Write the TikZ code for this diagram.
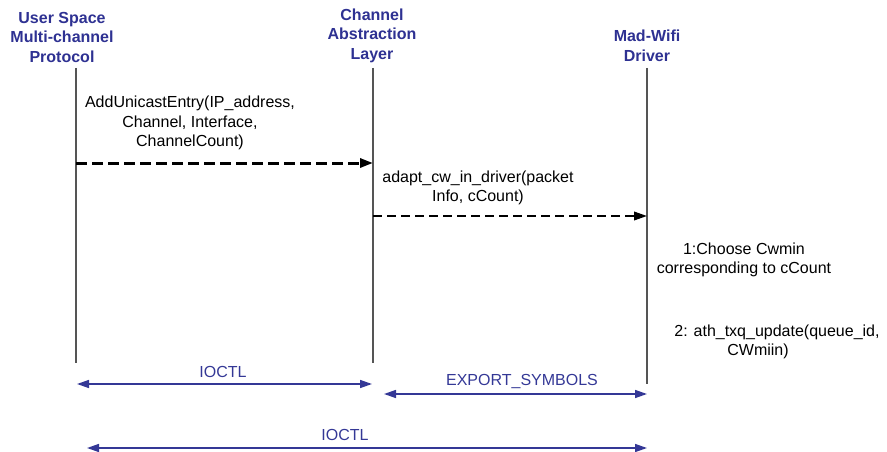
\documentclass[tikz,border=0pt]{standalone}
\usepackage{fontspec}
\setmainfont{Liberation Sans}
\usetikzlibrary{arrows.meta}
\definecolor{hdrblue}{RGB}{46,49,146}
\definecolor{arrblue}{RGB}{52,56,150}
\definecolor{lifegray}{RGB}{85,85,85}
\tikzset{
  hdr/.style={font=\fontsize{16}{19.5}\selectfont\bfseries, text=hdrblue, align=center, inner sep=0pt},
  msg/.style={font=\fontsize{16}{19.5}\selectfont, text=black, align=center, inner sep=0pt},
  blab/.style={font=\fontsize{16}{19.5}\selectfont, text=arrblue, inner sep=0pt},
  lifeline/.style={draw=lifegray, line width=1.3pt},
  callA/.style={draw=black, line width=3pt, dash pattern=on 11pt off 5pt, -{Triangle[length=13pt,width=9pt]}},
  callB/.style={draw=black, line width=2pt, dash pattern=on 9pt off 5pt, -{Triangle[length=13pt,width=8.5pt]}},
  link/.style={draw=arrblue, line width=1.5pt, {Triangle[length=12pt,width=8pt]}-{Triangle[length=12pt,width=8pt]}}
}
\begin{document}
\begin{tikzpicture}[x=1pt,y=-1pt]
\useasboundingbox (0,0) rectangle (887,452);
% headers
\node[hdr] (h1) at (62,37) {User Space\\Multi-channel\\Protocol};
\node[hdr] (h2) at (372,35.5) {Channel\\Abstraction\\Layer};
\node[hdr] (h3) at (647,46) {Mad-Wifi\\Driver};
% lifelines
\coordinate (l1t) at (76,68); \coordinate (l1b) at (76,363);
\coordinate (l2t) at (373,68); \coordinate (l2b) at (373,363);
\coordinate (l3t) at (647,68); \coordinate (l3b) at (647,384);
\draw[lifeline] (l1t) -- (l1b);
\draw[lifeline] (l2t) -- (l2b);
\draw[lifeline] (l3t) -- (l3b);
% messages
\node[msg] (m1) at (190,123) {AddUnicastEntry(IP\_address,\\Channel, Interface,\\ChannelCount)};
\coordinate (a1s) at (76,163); \coordinate (a1e) at (373,163);
\draw[callA] (a1s) -- (a1e);
\node[msg] (m2) at (478,188) {adapt\_cw\_in\_driver(packet\\Info, cCount)};
\coordinate (a2s) at (373,216); \coordinate (a2e) at (647,216);
\draw[callB] (a2s) -- (a2e);
\node[msg] (s1) at (744,260) {1:Choose Cwmin\\corresponding to cCount};
\node[msg] (s2a) at (777,332) {2: ath\_txq\_update(queue\_id,};
\node[msg] (s2b) at (758,351) {CWmiin)};
% bottom links
\coordinate (b1s) at (77,384); \coordinate (b1e) at (372,384);
\draw[link] (b1s) -- (b1e);
\node[blab] (t1) at (223,372) {IOCTL};
\coordinate (b2s) at (384,394); \coordinate (b2e) at (647,394);
\draw[link] (b2s) -- (b2e);
\node[blab] (t2) at (522,382) {EXPORT\_SYMBOLS};
\coordinate (b3s) at (87,448); \coordinate (b3e) at (647,448);
\draw[link] (b3s) -- (b3e);
\node[blab] (t3) at (345,435) {IOCTL};
\end{tikzpicture}
\end{document}
